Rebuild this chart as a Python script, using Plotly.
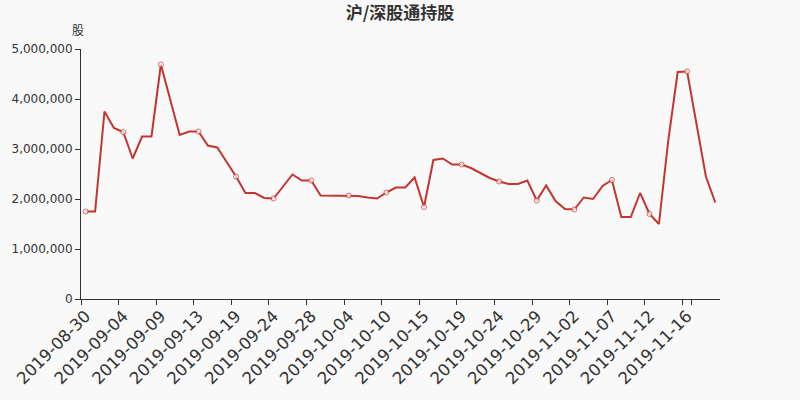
import plotly.graph_objects as go

dates = [
    "2019-08-30", "2019-08-31", "2019-09-02", "2019-09-03", "2019-09-04", "2019-09-05", "2019-09-06", "2019-09-07",
    "2019-09-09", "2019-09-10", "2019-09-11", "2019-09-12", "2019-09-13", "2019-09-14", "2019-09-16", "2019-09-18",
    "2019-09-19", "2019-09-20", "2019-09-21", "2019-09-23", "2019-09-24", "2019-09-25", "2019-09-26", "2019-09-27",
    "2019-09-28", "2019-09-30", "2019-10-02", "2019-10-03", "2019-10-04", "2019-10-05", "2019-10-08", "2019-10-09",
    "2019-10-10", "2019-10-11", "2019-10-12", "2019-10-14", "2019-10-15", "2019-10-16", "2019-10-17", "2019-10-18",
    "2019-10-19", "2019-10-21", "2019-10-22", "2019-10-23", "2019-10-24", "2019-10-25", "2019-10-26", "2019-10-28",
    "2019-10-29", "2019-10-30", "2019-10-31", "2019-11-01", "2019-11-02", "2019-11-04", "2019-11-05", "2019-11-06",
    "2019-11-07", "2019-11-08", "2019-11-09", "2019-11-11", "2019-11-12", "2019-11-13", "2019-11-14", "2019-11-15",
    "2019-11-16", "2019-11-18", "2019-11-19", "2019-11-20",
]

holdings = [
    1750000, 1750000, 3750000, 3420000, 3340000, 2810000, 3250000, 3250000,
    4690000, 3990000, 3280000, 3350000, 3350000, 3070000, 3030000, 2740000,
    2450000, 2120000, 2120000, 2020000, 2010000, 2250000, 2490000, 2370000,
    2370000, 2070000, 2070000, 2070000, 2070000, 2060000, 2030000, 2010000,
    2130000, 2230000, 2230000, 2430000, 1840000, 2780000, 2810000, 2690000,
    2690000, 2620000, 2520000, 2420000, 2350000, 2300000, 2300000, 2370000,
    1970000, 2270000, 1960000, 1800000, 1790000, 2030000, 2000000, 2260000,
    2380000, 1640000, 1640000, 2120000, 1700000, 1500000, 3180000, 4540000,
    4550000, 3500000, 2450000, 1930000,
]

y_ticks = [0, 1000000, 2000000, 3000000, 4000000, 5000000]
y_tick_text = ["0", "1,000,000", "2,000,000", "3,000,000", "4,000,000", "5,000,000"]

label_every = 4
marker_sizes = [5 if i % label_every == 0 else 0 for i in range(len(dates))]

fig = go.Figure()
fig.add_trace(go.Scatter(
    x=dates, y=holdings, mode="lines+markers",
    line=dict(color="#c23531", width=2),
    marker=dict(size=marker_sizes, color="#ffffff", line=dict(color="#c23531", width=1)),
    hovertemplate="%{x}<br>%{y:,}<extra></extra>",
))

fig.update_layout(
    width=800, height=400,
    paper_bgcolor="#f9f9f9", plot_bgcolor="#f9f9f9",
    margin=dict(l=81, r=80, t=49, b=101, autoexpand=False),
    showlegend=False,
    title=dict(text="<b>沪/深股通持股</b>", x=0.5, xanchor="center", y=0.967, yanchor="middle",
               font=dict(size=17, color="#333333", family="Noto Sans CJK SC")),
    font=dict(family="DejaVu Sans", color="#333333", size=12),
    annotations=[dict(text="股", xref="paper", yref="paper", x=0, y=1, xshift=-3, yshift=20,
                      xanchor="center", yanchor="middle", showarrow=False,
                      font=dict(size=12, color="#333333", family="Noto Sans CJK SC"))],
)

fig.update_xaxes(
    type="category", range=[-0.5, len(dates) - 0.5], automargin=False,
    tickmode="array", tickvals=dates[::label_every], ticktext=dates[::label_every],
    tickson="boundaries", ticks="outside", ticklen=5, tickcolor="#333333",
    tickangle=-45, tickfont=dict(size=16.5, color="#333333"),
    showline=True, linecolor="#333333", linewidth=1,
    showgrid=False, zeroline=False,
)
fig.update_yaxes(
    range=[0, 5000000], tickmode="array", tickvals=y_ticks, ticktext=y_tick_text,
    automargin=False,
    ticks="outside", ticklen=5, tickcolor="#333333",
    tickfont=dict(size=12, color="#333333"),
    showline=True, linecolor="#333333", linewidth=1,
    showgrid=False, zeroline=False,
)

fig.write_html("out.html", config={"displayModeBar": False},
               post_script="document.body.style.margin='0';document.body.style.background='#f9f9f9';")
